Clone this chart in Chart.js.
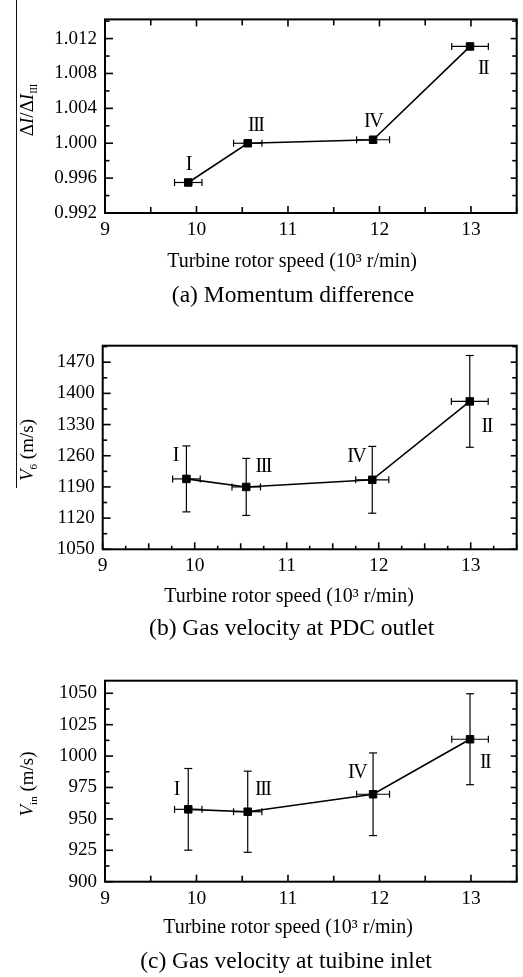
<!DOCTYPE html>
<html>
<head>
<meta charset="utf-8">
<script src="https://cdn.jsdelivr.net/npm/chart.js@4.4.1/dist/chart.umd.min.js"></script>
<style>
  html, body { margin: 0; padding: 0; background: #fff; overflow: hidden; }
  body { width: 523px; height: 977px; position: relative; }
  canvas { position: absolute; left: 0; }
  #overline { position: absolute; left: 16px; top: 0; width: 1px; height: 488px; background: #111; }
</style>
</head>
<body>
<canvas id="chartA" width="523" height="320" style="top:0"></canvas>
<canvas id="chartB" width="523" height="325" style="top:320px"></canvas>
<canvas id="chartC" width="523" height="332" style="top:645px"></canvas>
<div id="overline"></div>
<script>
// data (cases in order of rotor speed)
const caseLabels = ["I", "III", "IV", "II"];
const rotorSpeed = [9.91, 10.56, 11.93, 12.99];
const rotorSpeedErr = [0.15, 0.155, 0.18, 0.2];

const momentumRatio = [0.9955, 1.0000, 1.0004, 1.0111];

const outletVelocity = [1208, 1190, 1206, 1382];
const outletVelocityErr = [74, 64, 75, 103];

const inletVelocity = [957.6, 955.7, 969.6, 1013.4];
const inletVelocityErr = [32.5, 32.3, 32.9, 36.2];

// tick labels
const speedTicks = [9, 10, 11, 12, 13];
const momentumTicks = [0.992, 0.996, 1.000, 1.004, 1.008, 1.012];
const outletTicks = [1050, 1120, 1190, 1260, 1330, 1400, 1470];
const inletTicks = [900, 925, 950, 975, 1000, 1025, 1050];

const SERIF = "'Liberation Serif', 'Times New Roman', serif";
Chart.defaults.font.family = SERIF;
Chart.defaults.color = "#000";

function line(ctx, x1, y1, x2, y2) {
  ctx.beginPath();
  ctx.moveTo(x1, y1);
  ctx.lineTo(x2, y2);
  ctx.stroke();
}

// rotated y title, parts drawn bottom to top
function drawRotated(ctx, cx, cy, parts) {
  ctx.save();
  ctx.translate(cx, cy);
  ctx.rotate(-Math.PI / 2);
  ctx.textAlign = "left";
  ctx.textBaseline = "alphabetic";
  let total = 0;
  parts.forEach(pt => { ctx.font = pt.font; total += ctx.measureText(pt.text).width; });
  let x = -total / 2;
  parts.forEach(pt => {
    ctx.font = pt.font;
    ctx.fillText(pt.text, x, pt.dy || 0);
    x += ctx.measureText(pt.text).width;
  });
  ctx.restore();
}

function makeDecor(p) {
  return {
    id: "decor",
    afterDatasetsDraw(chart) {
      const { ctx, scales: { x, y } } = chart;
      ctx.save();
      ctx.strokeStyle = "#000";
      ctx.lineWidth = 1.2;
      rotorSpeed.forEach((s, i) => {
        const px = x.getPixelForValue(s);
        const py = y.getPixelForValue(p.values[i]);
        const xl = x.getPixelForValue(s - rotorSpeedErr[i]);
        const xr = x.getPixelForValue(s + rotorSpeedErr[i]);
        line(ctx, xl, py, xr, py);
        line(ctx, xl, py - 3.5, xl, py + 3.5);
        line(ctx, xr, py - 3.5, xr, py + 3.5);
        if (p.errors) {
          const yt = y.getPixelForValue(p.values[i] + p.errors[i]);
          const yb = y.getPixelForValue(p.values[i] - p.errors[i]);
          line(ctx, px, yt, px, yb);
          line(ctx, px - 4, yt, px + 4, yt);
          line(ctx, px - 4, yb, px + 4, yb);
        }
      });
      // case labels
      ctx.fillStyle = "#000";
      ctx.font = "20px " + SERIF;
      ctx.letterSpacing = "-1.5px";
      ctx.textAlign = "center";
      ctx.textBaseline = "middle";
      caseLabels.forEach((lab, i) => {
        const px = x.getPixelForValue(rotorSpeed[i]);
        const py = y.getPixelForValue(p.values[i]);
        ctx.fillText(lab, px + p.labelOffsets[i][0], py + p.labelOffsets[i][1]);
      });
      ctx.restore();
    },
    afterDraw(chart) {
      const { ctx, chartArea: a, scales: { x, y } } = chart;
      ctx.save();
      ctx.strokeStyle = "#000";
      // ticks pointing inward
      ctx.lineWidth = 1.6;
      for (let v = 9; v <= 13.5 + 1e-9; v += p.minorX) {
        const major = speedTicks.some(t => Math.abs(t - v) < 1e-6);
        const half = Math.abs(v * 2 - Math.round(v * 2)) < 1e-6;
        const len = major ? 7 : (half ? 6 : 3.5);
        const px = x.getPixelForValue(v);
        line(ctx, px, a.bottom, px, a.bottom - len);
        if (p.topTicks) line(ctx, px, a.top, px, a.top + len);
      }
      const steps = Math.round((p.yMax - p.yMin) / p.minorY);
      for (let k = 0; k <= steps; k++) {
        const v = p.yMin + k * p.minorY;
        if (v > p.yMax) break;
        const major = p.ticks.some(t => Math.abs(t - v) < p.minorY / 10);
        const py = y.getPixelForValue(v);
        line(ctx, a.left, py, a.left + (major ? 8 : 4.5), py);
        line(ctx, a.right, py, a.right - (major ? 6 : 4.5), py);
      }
      // frame
      ctx.lineWidth = 2;
      ctx.strokeRect(a.left, a.top, a.right - a.left, a.bottom - a.top);
      // titles
      ctx.fillStyle = "#000";
      ctx.textAlign = "center";
      ctx.textBaseline = "alphabetic";
      ctx.font = "20px " + SERIF;
      ctx.fillText("Turbine rotor speed (10\u00b3 r/min)", p.xTitle[0], p.xTitle[1]);
      ctx.font = "23.5px " + SERIF;
      ctx.fillText(p.caption, p.captionAt[0], p.captionAt[1]);
      drawRotated(ctx, p.yTitleAt[0], p.yTitleAt[1], p.yTitle);
      ctx.restore();
    }
  };
}

function makePanel(id, p) {
  const canvas = document.getElementById(id);
  const H = canvas.height;
  return new Chart(canvas, {
    type: "scatter",
    data: {
      datasets: [{
        data: rotorSpeed.map((s, i) => ({ x: s, y: p.values[i] })),
        showLine: true,
        borderColor: "#000",
        borderWidth: 1.6,
        pointStyle: "rect",
        pointRadius: 5.3,
        pointBackgroundColor: "#000",
        pointBorderColor: "#000",
        pointBorderWidth: 1
      }]
    },
    options: {
      responsive: false,
      animation: false,
      events: [],
      layout: { padding: { left: 0, top: p.area.top, right: 523 - p.area.right, bottom: H - p.area.bottom - 30 } },
      plugins: { legend: { display: false }, tooltip: { enabled: false } },
      scales: {
        x: {
          type: "linear", min: 9, max: 13.5,
          grid: { display: false, drawTicks: false },
          border: { display: false },
          afterBuildTicks: s => { s.ticks = speedTicks.map(v => ({ value: v })); },
          afterFit: s => { s.height = 30; },
          ticks: { padding: 5, font: { size: 19.5 }, color: "#000", callback: v => String(v) }
        },
        y: {
          type: "linear", min: p.yMin, max: p.yMax,
          grid: { display: false, drawTicks: false },
          border: { display: false },
          afterBuildTicks: s => { s.ticks = p.ticks.map(v => ({ value: v })); },
          afterFit: s => { s.width = p.area.left; },
          ticks: { padding: 8, font: { size: 19 }, color: "#000", callback: v => v.toFixed(p.digits) }
        }
      }
    },
    plugins: [makeDecor(p)]
  });
}

const main = "19px " + SERIF;
const ital = "italic 19px " + SERIF;
const sub = "11px " + SERIF;

makePanel("chartA", {
  values: momentumRatio, errors: null,
  yMin: 0.992, yMax: 1.0142, ticks: momentumTicks, digits: 3,
  minorX: 0.5, minorY: 0.002, topTicks: true,
  area: { left: 105, top: 6.5, right: 520, bottom: 213 },
  labelOffsets: [[0, -18], [8, -17], [0, -18], [13, 22]],
  xTitle: [292, 267], caption: "(a) Momentum difference", captionAt: [293, 302],
  yTitleAt: [33, 110],
  yTitle: [
    { text: "\u0394", font: main }, { text: "I", font: ital }, { text: "/", font: main },
    { text: "\u0394", font: main }, { text: "I", font: ital }, { text: "III", font: "10px " + SERIF, dy: 4 }
  ]
});

makePanel("chartB", {
  values: outletVelocity, errors: outletVelocityErr,
  yMin: 1050, yMax: 1507, ticks: outletTicks, digits: 0,
  minorX: 0.25, minorY: 35, topTicks: false,
  area: { left: 102.7, top: 25.7, right: 518, bottom: 229.3 },
  labelOffsets: [[-11, -23], [17, -20], [-16, -23], [17, 25]],
  xTitle: [289, 281.7], caption: "(b) Gas velocity at PDC outlet", captionAt: [291.7, 315],
  yTitleAt: [33, 130],
  yTitle: [
    { text: "V", font: ital }, { text: "6", font: sub, dy: 4 }, { text: " (m/s)", font: main }
  ]
});

makePanel("chartC", {
  values: inletVelocity, errors: inletVelocityErr,
  yMin: 900, yMax: 1060, ticks: inletTicks, digits: 0,
  minorX: 0.5, minorY: 12.5, topTicks: false,
  area: { left: 105, top: 35.7, right: 521, bottom: 236.7 },
  labelOffsets: [[-12, -20], [15, -22], [-16, -22], [15, 24]],
  xTitle: [288, 288.3], caption: "(c) Gas velocity at tuibine inlet", captionAt: [286, 323],
  yTitleAt: [33, 139],
  yTitle: [
    { text: "V", font: ital }, { text: "in", font: sub, dy: 4 }, { text: " (m/s)", font: main }
  ]
});
</script>
</body>
</html>
